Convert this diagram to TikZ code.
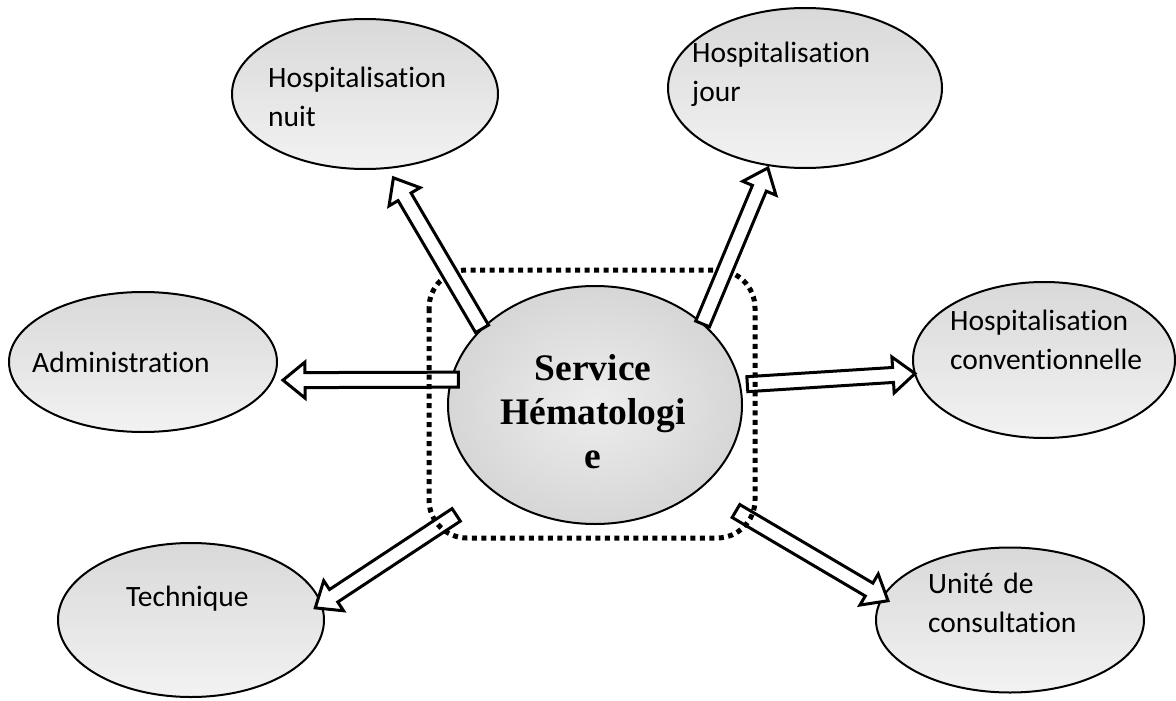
\documentclass[tikz,border=0pt]{standalone}
\usepackage{fontspec}
\setmainfont{Carlito}[Ligatures={NoCommon,NoContextual}]
\newfontfamily\titlefont{Liberation Serif}
\usetikzlibrary{shapes.geometric,calc}

\begin{document}
\begin{tikzpicture}[x=1pt,y=-1pt,
  bubble/.style={ellipse, draw=black, line width=2pt, inner sep=0pt, outer sep=0pt,
    top color=black!15, bottom color=black!5},
  hub/.style={ellipse, draw=black, line width=2pt, inner sep=0pt, outer sep=0pt,
    inner color=black!7, outer color=black!16},
  caption/.style={inner sep=0pt, anchor=base west, align=left, text width=230pt,
    font=\fontsize{29.5}{39}\selectfont},
  % hollow block arrow: #1 = gap at the start, #2 = gap at the tip
  blockarrow/.style 2 args={draw=black, fill=white, line width=3pt, line join=miter,
    to path={
      let \p1=(\tikztostart), \p2=(\tikztotarget),
          \n1={atan2(\y2-\y1,\x2-\x1)},
          \n2={veclen(\x2-\x1,\y2-\y1)} in
      {[shift={(\p1)}, rotate=\n1]
        (#1,-7.5) -- ({\n2-(#2)-22},-7.5) -- ({\n2-(#2)-22},-18) -- ({\n2-(#2)},0)
        -- ({\n2-(#2)-22},18) -- ({\n2-(#2)-22},7.5) -- (#1,7.5) -- cycle}
    }},
  frame/.style={draw=black, line width=5pt, dash pattern=on 5pt off 4.5pt, rounded corners=38pt}
]
\useasboundingbox (0,0) rectangle (1176,701);

% satellite units and the central service
\node[bubble, minimum width=266pt, minimum height=150pt] (nuit)   at (365,94)   {};
\node[bubble, minimum width=274pt, minimum height=160pt] (jour)   at (805,88)   {};
\node[bubble, minimum width=268pt, minimum height=140pt] (admin)  at (143,362)  {};
\node[bubble, minimum width=262pt, minimum height=156pt] (conv)   at (1044,360) {};
\node[bubble, minimum width=266pt, minimum height=154pt] (tech)   at (191,620)  {};
\node[bubble, minimum width=268pt, minimum height=145pt] (unite)  at (1010,620) {};
\node[hub,    minimum width=294pt, minimum height=238pt] (c)      at (595,405)  {};

% lower and side arrows (under the dotted frame)
\draw[blockarrow={-7}{10.6}] (c.170.9) to (admin.-8.85);
\draw[blockarrow={7.5}{0}]   (c.8.66)  to (conv.186.7);
\draw[blockarrow={44}{-7}]   (c.220.4) to (tech.7.45);
\draw[blockarrow={43}{-6.3}] (c.-39.5) to (unite.170.8);

% dotted frame around the service
\draw[frame] (429,270) rectangle (755,538);

% upper arrows (over the dotted frame)
\draw[blockarrow={0}{11.5}] (c.146.5) to (nuit.-73.2);
\draw[blockarrow={0}{3}]    (c.37.3)  to (jour.-115);

% texts
\node[caption] (tnuit)  at (268,88)  {Hospitalisation\\nuit};
\node[caption] (tjour)  at (692,63)  {Hospitalisation\\jour};
\node[caption] (tadmin) at (32,372)  {Administration};
\node[caption] (tconv)  at (950,330) {Hospitalisation\\conventionnelle};
\node[caption] (ttech)  at (126,606) {Technique};
\node[caption] (tunite) at (928,593) {Unité de\\consultation};
\node[inner sep=0pt, anchor=base, align=center, text width=280pt,
  font=\titlefont\bfseries\fontsize{37.5}{44}\selectfont] (tc) at (593,380)
  {Service\\Hématologi\\e};
\end{tikzpicture}
\end{document}
